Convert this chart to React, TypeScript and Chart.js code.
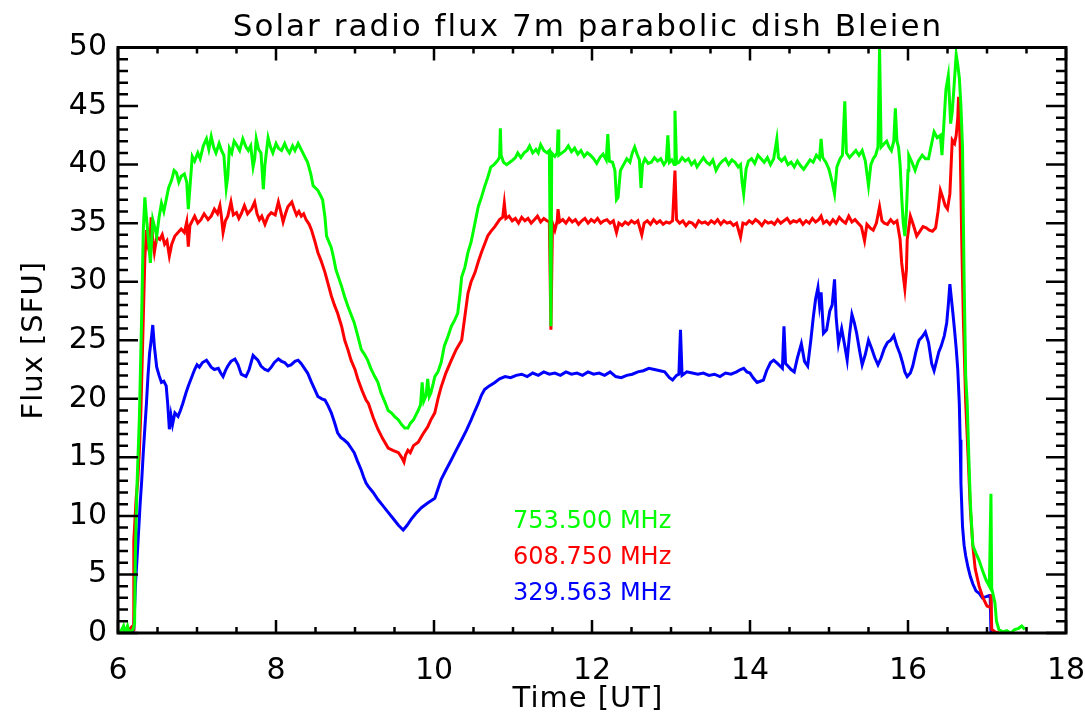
import React, { useEffect, useRef } from "react";
import { Chart, registerables } from "chart.js";

Chart.register(...registerables);

const TITLE = "Solar radio flux 7m parabolic dish Bleien";
const X_TITLE = "Time [UT]";
const Y_TITLE = "Flux [SFU]";
const X_MIN = 6;
const X_MAX = 18;
const Y_MIN = 0;
const Y_MAX = 50;
const SERIES_LABELS = ["753.500 MHz", "608.750 MHz", "329.563 MHz"];
const SERIES_COLORS = ["#00ff00", "#ff0000", "#0000ff"];

// 753.500 MHz
const greenT = [
  6.0, 6.04, 6.07, 6.09, 6.12, 6.14, 6.19, 6.21, 6.22, 6.24, 6.27, 6.3, 6.32, 6.34, 6.36, 6.38, 6.41, 6.44, 6.47, 6.49,
  6.52, 6.55, 6.58, 6.61, 6.64, 6.68, 6.71, 6.74, 6.77, 6.8, 6.84, 6.87, 6.89, 6.91, 6.94, 6.97, 7.01, 7.04, 7.08, 7.12,
  7.15, 7.18, 7.21, 7.24, 7.28, 7.31, 7.34, 7.37, 7.39, 7.41, 7.44, 7.47, 7.5, 7.54, 7.58, 7.62, 7.65, 7.68, 7.71, 7.73,
  7.75, 7.78, 7.81, 7.84, 7.86, 7.9, 7.93, 7.96, 8.0, 8.03, 8.07, 8.11, 8.14, 8.17, 8.21, 8.24, 8.28, 8.31, 8.34, 8.37,
  8.4, 8.44, 8.47, 8.5, 8.53, 8.56, 8.59, 8.62, 8.64, 8.67, 8.7, 8.73, 8.76, 8.8, 8.83, 8.87, 8.91, 8.95, 8.99, 9.03,
  9.08, 9.12, 9.16, 9.2, 9.25, 9.29, 9.33, 9.38, 9.42, 9.46, 9.5, 9.55, 9.59, 9.63, 9.67, 9.7, 9.74, 9.77, 9.8, 9.83,
  9.85, 9.87, 9.9, 9.92, 9.94, 9.96, 9.99, 10.01, 10.05, 10.09, 10.13, 10.17, 10.22, 10.26, 10.3, 10.33, 10.35, 10.39, 10.43, 10.47,
  10.5, 10.53, 10.56, 10.6, 10.64, 10.68, 10.72, 10.76, 10.8, 10.83, 10.84, 10.85, 10.88, 10.92, 10.96, 11.0, 11.03, 11.06, 11.1, 11.14,
  11.18, 11.21, 11.25, 11.29, 11.32, 11.35, 11.39, 11.43, 11.46, 11.48, 11.49, 11.53, 11.56, 11.57, 11.58, 11.62, 11.66, 11.7, 11.74, 11.78,
  11.82, 11.86, 11.9, 11.94, 11.98, 12.02, 12.06, 12.1, 12.14, 12.18, 12.2, 12.22, 12.26, 12.29, 12.31, 12.33, 12.36, 12.4, 12.44, 12.48,
  12.51, 12.54, 12.57, 12.6, 12.62, 12.64, 12.67, 12.71, 12.75, 12.79, 12.83, 12.87, 12.91, 12.94, 12.96, 12.98, 13.01, 13.04, 13.05, 13.07,
  13.1, 13.14, 13.18, 13.22, 13.26, 13.3, 13.33, 13.37, 13.41, 13.45, 13.49, 13.53, 13.57, 13.61, 13.65, 13.69, 13.73, 13.77, 13.81, 13.85,
  13.88, 13.9, 13.92, 13.95, 13.98, 14.02, 14.06, 14.1, 14.14, 14.18, 14.22, 14.26, 14.3, 14.34, 14.36, 14.4, 14.44, 14.48, 14.52, 14.56,
  14.6, 14.64, 14.68, 14.72, 14.76, 14.8, 14.84, 14.88, 14.9, 14.92, 14.96, 15.0, 15.04, 15.07, 15.1, 15.14, 15.17, 15.2, 15.22, 15.26,
  15.3, 15.34, 15.38, 15.42, 15.46, 15.5, 15.53, 15.56, 15.59, 15.62, 15.64, 15.66, 15.7, 15.73, 15.76, 15.79, 15.82, 15.84, 15.86, 15.88,
  15.9, 15.92, 15.94, 15.96, 15.98, 16.0, 16.01, 16.05, 16.09, 16.13, 16.18, 16.22, 16.26, 16.29, 16.33, 16.37, 16.41, 16.43, 16.45, 16.48,
  16.51, 16.54, 16.56, 16.58, 16.61, 16.63, 16.65, 16.67, 16.69, 16.71, 16.73, 16.75, 16.77, 16.79, 16.82, 16.86, 16.9, 16.95, 16.99, 17.03,
  17.05, 17.06, 17.08, 17.1, 17.12, 17.15, 17.2, 17.25, 17.3, 17.35, 17.4, 17.44, 17.48,
];
const greenV = [
  0, 0.2, 0.6, 0, 0.6, 0, 0.3, 0.8, 6.8, 12.5, 18.2, 27.3, 34.4, 37.2, 35.5, 34, 31.6, 35.3, 34.5, 33.9,
  35.5, 36.7, 36, 37, 38, 38.7, 39.5, 39.3, 38.5, 39, 39.2, 38.5, 36.2, 38, 40.7, 40.3, 41, 40.5, 41.6, 42.2,
  41.3, 42.4, 41.5, 41, 41.8, 41.2, 40.8, 38, 39, 41.4, 41, 42, 41.7, 41.2, 42.2, 41.5, 41.2, 41.6, 39.8, 40.5,
  42.2, 41.3, 41, 37.9, 40, 42.3, 41.5, 41, 41.8, 41.4, 41.2, 41.8, 41.3, 41, 41.6, 41.2, 41.8, 41.4, 41, 40.6,
  40.2, 39.2, 38.2, 38, 37.8, 37.4, 37, 35.5, 33.9, 33.4, 32.9, 32, 31, 30.2, 29.6, 28.7, 27.9, 27.2, 26.5, 25.5,
  24.2, 23.8, 23.3, 22.6, 21.9, 21.4, 20.5, 19.7, 19, 18.8, 18.5, 18.2, 17.8, 17.5, 17.5, 17.9, 18.2, 18.6, 19, 19.5,
  21.4, 19.8, 20.3, 21.7, 20.2, 20.5, 21.3, 21.9, 22.3, 23.1, 24.5, 25.2, 26.2, 26.7, 27.3, 29, 30.4, 31.2, 32.5, 33.4,
  34.4, 35.4, 36.4, 37.2, 38.1, 38.9, 39.8, 40, 40.3, 40.6, 43.1, 40.8, 40.2, 40, 40.2, 40.4, 40.6, 41, 40.6, 41,
  41.2, 41.6, 41, 41.3, 41, 41.7, 41.2, 41, 41.2, 26.2, 41, 40.7, 41, 43, 40.8, 41, 41.2, 41.6, 41.1, 41.4,
  40.9, 41.2, 40.7, 41, 40.8, 40.5, 40.1, 40.6, 40.9, 40.4, 42.6, 40.3, 40.2, 39.5, 37, 37.2, 39.5, 40, 40.5, 40.2,
  41, 41.5, 40.9, 40.4, 38, 40, 40.5, 40.1, 40.2, 40.6, 40.3, 40.5, 40, 40.3, 42.5, 40.2, 40.4, 40, 44.6, 40.1,
  40.2, 40.6, 40.3, 40.5, 40, 40.3, 39.8, 40.2, 40.6, 40.2, 40, 40.4, 39.5, 40, 40.3, 40.5, 40, 40.4, 40.2, 39.8,
  40, 38.5, 37.5, 39.6, 40.3, 40.5, 40.1, 40.8, 40.5, 40.2, 40.6, 40, 40.5, 42.2, 40.6, 40.3, 40.6, 40, 40.2, 39.8,
  40.3, 39.9, 39.6, 40, 40.4, 40.2, 40.8, 40.5, 42.2, 40.6, 40.2, 39.6, 38.5, 37.5, 39.8, 40.5, 40.8, 45.4, 41, 40.6,
  40.9, 41.2, 40.8, 41.2, 40.3, 38.2, 40, 40.5, 40.8, 41.5, 50, 41.5, 41.8, 42, 41.5, 41.2, 42, 44.8, 42, 41.5,
  40, 37.2, 35, 33.9, 36, 39.5, 40.8, 40.2, 39.5, 40.3, 40.8, 40.5, 40.5, 41.5, 42.8, 42.3, 42.5, 40.8, 43, 46.4,
  47.6, 43.5, 44.5, 46.4, 49.4, 48.5, 47.4, 45, 41.5, 30.3, 22, 19.5, 15, 11, 7.5, 6.8, 6.2, 5.2, 4.5, 4,
  11.9, 3.8, 3.2, 2.6, 1, 0.3, 0.1, 0.2, 0, 0.3, 0.4, 0.6, 0.3,
];

// 608.750 MHz
const redT = [
  6.0, 6.1, 6.17, 6.19, 6.2, 6.23, 6.25, 6.27, 6.29, 6.32, 6.34, 6.36, 6.38, 6.4, 6.42, 6.44, 6.46, 6.49, 6.53, 6.56,
  6.59, 6.62, 6.65, 6.68, 6.72, 6.76, 6.8, 6.84, 6.87, 6.89, 6.91, 6.94, 6.97, 7.01, 7.05, 7.09, 7.14, 7.18, 7.22, 7.26,
  7.29, 7.31, 7.33, 7.36, 7.39, 7.43, 7.46, 7.5, 7.53, 7.56, 7.6, 7.64, 7.69, 7.73, 7.76, 7.79, 7.82, 7.86, 7.9, 7.94,
  7.99, 8.03, 8.06, 8.09, 8.12, 8.15, 8.2, 8.23, 8.26, 8.29, 8.32, 8.35, 8.38, 8.42, 8.45, 8.49, 8.53, 8.57, 8.62, 8.66,
  8.7, 8.74, 8.78, 8.83, 8.87, 8.91, 8.95, 9.0, 9.04, 9.09, 9.14, 9.17, 9.23, 9.29, 9.35, 9.42, 9.48, 9.55, 9.59, 9.62,
  9.64, 9.67, 9.7, 9.74, 9.8, 9.86, 9.92, 9.96, 10.01, 10.05, 10.09, 10.15, 10.22, 10.28, 10.35, 10.39, 10.43, 10.47, 10.52, 10.56,
  10.6, 10.64, 10.68, 10.72, 10.77, 10.8, 10.83, 10.87, 10.89, 10.91, 10.95, 10.99, 11.03, 11.07, 11.11, 11.15, 11.19, 11.23, 11.27, 11.31,
  11.35, 11.39, 11.43, 11.46, 11.48, 11.5, 11.53, 11.56, 11.57, 11.59, 11.63, 11.67, 11.71, 11.75, 11.79, 11.83, 11.87, 11.91, 11.95, 11.99,
  12.03, 12.07, 12.11, 12.15, 12.19, 12.23, 12.27, 12.31, 12.34, 12.38, 12.42, 12.46, 12.5, 12.54, 12.58, 12.63, 12.66, 12.7, 12.74, 12.78,
  12.82, 12.86, 12.9, 12.94, 12.98, 13.02, 13.05, 13.07, 13.11, 13.15, 13.19, 13.23, 13.27, 13.31, 13.35, 13.39, 13.43, 13.47, 13.51, 13.55,
  13.59, 13.63, 13.67, 13.71, 13.75, 13.79, 13.83, 13.88, 13.91, 13.95, 13.99, 14.03, 14.07, 14.11, 14.15, 14.19, 14.23, 14.27, 14.31, 14.35,
  14.39, 14.43, 14.47, 14.51, 14.55, 14.59, 14.63, 14.67, 14.71, 14.75, 14.79, 14.83, 14.87, 14.9, 14.93, 14.97, 15.01, 15.05, 15.09, 15.13,
  15.17, 15.21, 15.25, 15.29, 15.33, 15.37, 15.41, 15.45, 15.48, 15.52, 15.56, 15.6, 15.64, 15.67, 15.7, 15.74, 15.78, 15.82, 15.86, 15.9,
  15.92, 15.94, 15.96, 15.98, 15.99, 16.03, 16.07, 16.11, 16.15, 16.19, 16.23, 16.27, 16.31, 16.35, 16.38, 16.41, 16.44, 16.47, 16.5, 16.53,
  16.56, 16.59, 16.61, 16.63, 16.64, 16.66, 16.68, 16.7, 16.73, 16.76, 16.79, 16.82, 16.85, 16.9, 16.95, 17.0, 17.04, 17.05, 17.06, 17.1,
  17.15,
];
const redV = [
  0, 0, 0.5, 0.3, 7.9, 11.5, 13, 15.4, 19, 26.8, 32, 34.4, 33, 32.5, 35.5, 33.5, 32.5, 33.8, 33.6, 34,
  33.2, 33.5, 32.2, 33.2, 33.9, 34.2, 34.5, 34.2, 35.1, 33, 34.8, 35.2, 35.6, 35, 35.3, 35.8, 35.3, 35.6, 36.2, 35.8,
  36.5, 35.5, 34.2, 35.2, 35.6, 36.8, 35.7, 35.9, 35.4, 35.8, 36.5, 35.8, 36.2, 36.8, 35.8, 35.3, 35.6, 34.9, 35.6, 35.9,
  35.7, 36.8, 36, 35.1, 35.8, 36.4, 36.8, 36.2, 35.7, 36, 35.6, 35.8, 35.3, 34.9, 34.4, 33.5, 32.5, 31.8, 30.8, 29.8,
  28.8, 28, 27.3, 26.2, 25, 24.2, 23.3, 22.5, 21.6, 20.7, 19.9, 19.6, 18.4, 17.4, 16.6, 15.8, 15.6, 15.4, 15, 14.6,
  15.2, 15.6, 15.4, 16, 16.3, 17, 17.6, 18.2, 18.8, 20, 21, 22.2, 23.3, 24.2, 25, 27, 29, 30, 30.8, 31.7,
  32.5, 33.2, 33.9, 34.3, 34.7, 35, 35.3, 35.5, 36.7, 35.4, 35.6, 35.2, 35.4, 35, 35.5, 35.2, 35.4, 35, 35.3, 35.6,
  35.1, 35.4, 35.2, 35.1, 25.9, 35, 34.4, 35.2, 36.2, 35.1, 35.3, 35, 35.4, 35.1, 35.3, 34.9, 35.2, 35.4, 35, 35.3,
  35.1, 35.4, 35, 35.2, 35.3, 35, 35.2, 34.2, 35, 34.8, 35.1, 34.9, 35.2, 35, 35.2, 34, 35, 35.2, 34.9, 35.3,
  35, 35.2, 34.9, 35.1, 35, 35.2, 39.5, 35.3, 35, 35.2, 34.8, 35.1, 35, 34.7, 35.2, 35, 35.1, 34.9, 35.2, 35,
  35.3, 34.9, 35.2, 35, 35.1, 34.8, 35, 33.8, 35, 34.9, 35.2, 35, 35.3, 35.1, 34.8, 35.2, 35, 35.1, 34.9, 35.3,
  35, 35.2, 35.4, 35, 35.2, 35.1, 35.3, 34.9, 35.2, 35, 35.4, 35.1, 35.3, 35.6, 35, 35.2, 34.9, 35.3, 35, 35.5,
  35.2, 35, 35.6, 35.1, 35.3, 35, 34.7, 33.5, 34.9, 34.6, 34.4, 35, 36.4, 35.2, 35, 34.9, 35.3, 35, 35.2, 33.6,
  31.6, 30.5, 29.4, 31, 33.6, 35.6, 34.8, 33.9, 34.3, 34.7, 34.6, 34.4, 34.3, 34.6, 36, 37.8, 37.2, 36.5, 36.2, 37.5,
  42.1, 41.8, 42.5, 44, 45.8, 41.8, 33.6, 27, 19.7, 15.2, 10.5, 7.5, 5.5, 4, 3, 2.3, 2.2, 3.3, 0.3, 0.1,
  0,
];

// 329.563 MHz
const blueT = [
  6.0, 6.1, 6.18, 6.2, 6.22, 6.25, 6.28, 6.3, 6.32, 6.34, 6.36, 6.38, 6.4, 6.42, 6.44, 6.46, 6.49, 6.52, 6.55, 6.58,
  6.61, 6.63, 6.65, 6.67, 6.69, 6.72, 6.76, 6.79, 6.82, 6.86, 6.89, 6.93, 6.97, 7.0, 7.03, 7.07, 7.12, 7.15, 7.18, 7.22,
  7.27, 7.3, 7.33, 7.36, 7.39, 7.43, 7.48, 7.52, 7.56, 7.59, 7.62, 7.66, 7.71, 7.74, 7.77, 7.81, 7.86, 7.9, 7.94, 7.98,
  8.03, 8.07, 8.11, 8.15, 8.19, 8.24, 8.28, 8.32, 8.36, 8.4, 8.45, 8.49, 8.53, 8.58, 8.62, 8.66, 8.7, 8.74, 8.78, 8.82,
  8.86, 8.91, 8.95, 8.99, 9.03, 9.08, 9.11, 9.14, 9.17, 9.23, 9.29, 9.35, 9.42, 9.48, 9.55, 9.61, 9.66, 9.71, 9.77, 9.84,
  9.92, 10.01, 10.05, 10.09, 10.15, 10.22, 10.28, 10.35, 10.41, 10.47, 10.52, 10.56, 10.6, 10.64, 10.7, 10.77, 10.83, 10.9, 10.97, 11.04,
  11.11, 11.18, 11.25, 11.32, 11.39, 11.46, 11.53, 11.6, 11.67, 11.74, 11.81, 11.88, 11.95, 12.02, 12.09, 12.16, 12.23, 12.3, 12.37, 12.44,
  12.51, 12.58, 12.65, 12.72, 12.79, 12.86, 12.92, 12.98, 13.02, 13.07, 13.1, 13.12, 13.14, 13.2, 13.27, 13.34, 13.41, 13.48, 13.55, 13.62,
  13.69, 13.76, 13.83, 13.88, 13.92, 13.96, 14.0, 14.04, 14.09, 14.13, 14.17, 14.21, 14.26, 14.3, 14.35, 14.38, 14.41, 14.43, 14.45, 14.48,
  14.52, 14.56, 14.6, 14.65, 14.69, 14.73, 14.77, 14.8, 14.83, 14.86, 14.88, 14.9, 14.93, 14.97, 15.01, 15.04, 15.07, 15.09, 15.12, 15.16,
  15.2, 15.23, 15.26, 15.29, 15.32, 15.35, 15.39, 15.42, 15.46, 15.5, 15.54, 15.58, 15.62, 15.66, 15.7, 15.74, 15.78, 15.82, 15.86, 15.9,
  15.93, 15.96, 15.99, 16.03, 16.06, 16.1, 16.14, 16.18, 16.22, 16.26, 16.3, 16.33, 16.36, 16.39, 16.42, 16.46, 16.49, 16.51, 16.53, 16.55,
  16.57, 16.59, 16.61, 16.63, 16.65, 16.66, 16.67, 16.69, 16.71, 16.73, 16.76, 16.79, 16.82, 16.86, 16.9, 16.94, 16.99, 17.03, 17.04, 17.05,
  17.1,
];
const blueV = [
  0, 0, 0, 0.3, 4, 7.4, 11, 13, 15.4, 17.5, 19.6, 22, 23.9, 25, 26.3, 24.5, 22.7, 22, 21.4, 21.5,
  21.1, 19.5, 17.4, 18.6, 17.8, 18.8, 18.5, 19, 19.6, 20.5, 21.1, 21.8, 22.5, 22.9, 22.7, 23.1, 23.3, 23, 22.7, 22.5,
  22.6, 22.2, 21.9, 22.4, 22.8, 23.2, 23.4, 22.9, 22.1, 22, 21.9, 22.5, 23.7, 23.5, 23.3, 22.8, 22.5, 22.4, 22.7, 23.1,
  23.4, 23.2, 23.1, 22.8, 22.9, 23.2, 23.3, 23, 22.6, 22.2, 21.4, 20.8, 20.2, 20, 19.9, 19.4, 18.8, 18, 17.1, 16.7,
  16.5, 16.2, 15.8, 15.4, 14.7, 13.9, 13.3, 12.8, 12.5, 12, 11.4, 10.9, 10.3, 9.8, 9.2, 8.8, 9.2, 9.7, 10.2, 10.7,
  11.1, 11.5, 12.3, 13.1, 13.9, 14.8, 15.6, 16.5, 17.3, 18.2, 19, 19.6, 20.3, 20.8, 21.1, 21.4, 21.7, 21.9, 21.8, 22,
  22.1, 21.9, 22.2, 22, 22.3, 22.1, 22.2, 22, 22.3, 22.1, 22.2, 22, 22.3, 22.1, 22.2, 22, 22.3, 21.9, 21.8, 22,
  22.1, 22.3, 22.4, 22.6, 22.5, 22.4, 22.3, 21.8, 21.6, 22, 22.1, 25.9, 22, 22.3, 22.2, 22.1, 22.2, 22, 22.1, 21.9,
  22.2, 22.1, 22.3, 22.5, 22.6, 22.3, 22.2, 21.8, 21.4, 21.5, 21.6, 22.4, 23.1, 23.3, 23, 22.8, 22.6, 26.2, 23, 22.8,
  22.5, 22.3, 23.5, 24.7, 23.2, 22.8, 25, 26.9, 28.5, 29.5, 28, 29.1, 25.6, 25.9, 27.5, 28, 30.2, 27, 24.7, 26,
  24.5, 23.3, 25.5, 27.2, 26.5, 25.6, 24, 22.9, 23.8, 25, 24.3, 23.5, 22.9, 23.5, 24.3, 24.8, 25, 25.4, 24.5, 23.8,
  23.1, 22.3, 21.9, 22.2, 22.8, 24, 25, 25.3, 25.7, 24.8, 23, 22.4, 23.2, 24, 24.5, 25.4, 26.5, 28, 29.8, 28.5,
  27.2, 25.8, 24.3, 22.5, 19.5, 16.5, 12.8, 9.1, 7.5, 6.6, 5.6, 4.8, 4.2, 3.6, 3.4, 3, 3.1, 3.2, 3.2, 0,
  0,
];

const toPoints = (t: number[], v: number[]) => t.map((x, i) => ({ x, y: v[i] }));

const FONT = "'DejaVu Sans', 'Liberation Sans', sans-serif";

const frameAndTextPlugin = {
  id: "frameAndText",
  afterDraw(chart: any) {
    const { ctx, chartArea: a, scales } = chart;
    const xs = scales.x;
    const ys = scales.y;
    ctx.save();
    // axis box
    ctx.strokeStyle = "#000";
    ctx.lineWidth = 3;
    ctx.strokeRect(a.left, a.top, a.right - a.left, a.bottom - a.top);
    // inward ticks
    ctx.lineWidth = 2.5;
    ctx.beginPath();
    for (let i = 0; i <= (X_MAX - X_MIN) * 2; i++) {
      const v = X_MIN + i * 0.5;
      const px = xs.getPixelForValue(v);
      const len = (v - X_MIN) % 2 === 0 ? 13 : 6;
      ctx.moveTo(px, a.bottom);
      ctx.lineTo(px, a.bottom - len);
      ctx.moveTo(px, a.top);
      ctx.lineTo(px, a.top + len);
    }
    for (let v = Y_MIN; v <= Y_MAX; v++) {
      const py = ys.getPixelForValue(v);
      const len = v % 5 === 0 ? 20 : 10;
      ctx.moveTo(a.left, py);
      ctx.lineTo(a.left + len, py);
      ctx.moveTo(a.right, py);
      ctx.lineTo(a.right - len, py);
    }
    ctx.stroke();

    const cx = (a.left + a.right) / 2;
    // title
    ctx.fillStyle = "#000";
    ctx.textAlign = "center";
    ctx.textBaseline = "alphabetic";
    ctx.font = `31px ${FONT}`;
    (ctx as any).letterSpacing = "2px";
    ctx.fillText(TITLE, cx - 4, 36);
    // x title
    ctx.font = `29px ${FONT}`;
    (ctx as any).letterSpacing = "1px";
    ctx.fillText(X_TITLE, cx - 4, 707);
    // y title
    ctx.save();
    ctx.translate(42, (a.top + a.bottom) / 2);
    ctx.rotate(-Math.PI / 2);
    ctx.fillText(Y_TITLE, 0, 0);
    ctx.restore();
    // series labels
    ctx.textAlign = "left";
    ctx.font = `24px ${FONT}`;
    (ctx as any).letterSpacing = "0px";
    const baselines = [528, 564, 600];
    SERIES_LABELS.forEach((lab, i) => {
      ctx.fillStyle = SERIES_COLORS[i];
      ctx.fillText(lab, a.left + 395, baselines[i]);
    });
    ctx.restore();
  },
};

export default function App() {
  const canvasRef = useRef<HTMLCanvasElement | null>(null);

  useEffect(() => {
    if (!canvasRef.current) return;
    const series = [toPoints(greenT, greenV), toPoints(redT, redV), toPoints(blueT, blueV)];
    const chart = new Chart(canvasRef.current, {
      type: "line",
      data: {
        datasets: series.map((pts, i) => ({
          label: SERIES_LABELS[i],
          data: pts,
          borderColor: SERIES_COLORS[i],
          backgroundColor: SERIES_COLORS[i],
          borderWidth: 3,
          pointRadius: 0,
          tension: 0,
          fill: false,
        })),
      },
      options: {
        animation: false,
        responsive: false,
        devicePixelRatio: 1,
        layout: { padding: { left: 0, right: 19, top: 47.5, bottom: 0 } },
        plugins: {
          legend: { display: false },
          title: { display: false },
          tooltip: { enabled: false },
        },
        scales: {
          x: {
            type: "linear",
            min: X_MIN,
            max: X_MAX,
            grid: { display: false, drawTicks: false },
            border: { display: false },
            ticks: {
              stepSize: 2,
              autoSkip: false,
              maxRotation: 0,
              padding: 20,
              color: "#000",
              font: { family: FONT, size: 30 },
            },
            afterFit: (s: any) => {
              s.height = 90;
              s.paddingLeft = 0;
              s.paddingRight = 0;
            },
          },
          y: {
            type: "linear",
            min: Y_MIN,
            max: Y_MAX,
            grid: { display: false, drawTicks: false },
            border: { display: false },
            ticks: {
              stepSize: 5,
              autoSkip: false,
              padding: 11,
              color: "#000",
              font: { family: FONT, size: 30 },
            },
            afterFit: (s: any) => {
              s.width = 118;
              s.paddingTop = 0;
              s.paddingBottom = 0;
            },
          },
        },
      },
      plugins: [frameAndTextPlugin],
    });
    return () => chart.destroy();
  }, []);

  return (
    <div style={{ position: "fixed", left: 0, top: 0, width: 1085, height: 723, background: "#fff" }}>
      <canvas ref={canvasRef} width={1085} height={723} style={{ width: 1085, height: 723, display: "block" }} />
    </div>
  );
}
